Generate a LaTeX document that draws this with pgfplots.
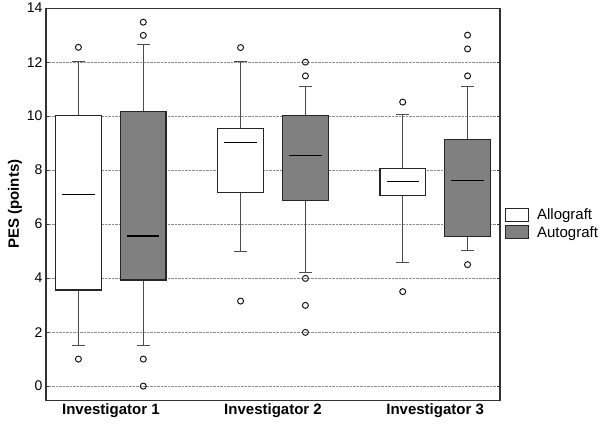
\documentclass[border=0pt]{standalone}
\usepackage{pgfplots}
\pgfplotsset{compat=1.18}
\usepgfplotslibrary{statistics}
\usepackage{fontspec}
\setmainfont{Liberation Sans}
\definecolor{autog}{HTML}{808080}
\pgfplotsset{
  allobox/.style={forget plot, line width=1.1pt, draw=black!85, mark=o,
    mark size=3pt, mark options={black!90, solid, fill=none, line width=1pt},
    boxplot/draw direction=y,
    boxplot/every box/.style={draw=black!85, fill=white},
    boxplot/every whisker/.style={black!70},
    boxplot/every median/.style={black, shorten <=6.5pt, shorten >=6.5pt}},
  autobox/.style={forget plot, line width=1.1pt, draw=black!85, mark=o,
    mark size=3pt, mark options={black!90, solid, fill=none, line width=1pt},
    boxplot/draw direction=y,
    boxplot/every box/.style={draw=black!85, fill=autog},
    boxplot/every whisker/.style={black!70},
    boxplot/every median/.style={black, shorten <=6.5pt, shorten >=6.5pt}},
}
\begin{document}
\begin{tikzpicture}
\begin{axis}[
  scale only axis, width=454pt, height=392pt,
  xmin=0.6, xmax=3.4, ymin=-0.52, ymax=14,
  xtick={1,2,3},
  xticklabels={Investigator 1, Investigator 2, Investigator 3},
  xticklabel style={font=\fontsize{15}{18}\selectfont\bfseries},
  x tick style={draw=none},
  ytick={0,2,...,14},
  yticklabel style={font=\fontsize{14}{16}\selectfont},
  /pgf/number format/assume math mode=true,
  ymajorgrids,
  grid style={densely dotted, black!45, line width=0.6pt},
  ylabel={PES (points)},
  ylabel style={font=\fontsize{15}{18}\selectfont\bfseries, yshift=-2pt},
  tick align=inside, major tick length=3pt,
  tick style={black!80, line width=0.8pt},
  axis line style={black!80, line width=1.1pt},
  boxplot/draw direction=y,
  boxplot/box extend=0.28,
  boxplot/whisker extend=0.08,
  legend style={at={(1,0.45)}, xshift=5pt, anchor=west, draw=none, fill=none,
    font=\fontsize{15}{16}\selectfont, inner sep=0pt, row sep=1pt},
  legend cell align=left,
  legend image code/.code={\draw[#1, line width=0.9pt] (0pt,-6.5pt) rectangle (23pt,6.5pt);},
]
% Investigator 1
\addplot[allobox, boxplot prepared={draw position=0.8, lower whisker=1.5,
  lower quartile=3.56, median=7.1, upper quartile=10.03, upper whisker=12.02}]
  table[row sep=\\, y index=0] {y\\ 12.55\\ 1.0\\};
\addplot[autobox, boxplot prepared={draw position=1.2, lower whisker=1.5,
  lower quartile=3.93, median=5.56, upper quartile=10.17, upper whisker=12.65}]
  table[row sep=\\, y index=0] {y\\ 13.48\\ 12.99\\ 1.0\\ 0\\};
% Investigator 2
\addplot[allobox, boxplot prepared={draw position=1.8, lower whisker=5.0,
  lower quartile=7.16, median=9.01, upper quartile=9.55, upper whisker=12.02}]
  table[row sep=\\, y index=0] {y\\ 12.54\\ 3.15\\};
\addplot[autobox, boxplot prepared={draw position=2.2, lower whisker=4.2,
  lower quartile=6.88, median=8.54, upper quartile=10.03, upper whisker=11.09}]
  table[row sep=\\, y index=0] {y\\ 12.0\\ 11.49\\ 3.99\\ 2.99\\ 1.99\\};
% Investigator 3
\addplot[allobox, boxplot prepared={draw position=2.8, lower whisker=4.59,
  lower quartile=7.07, median=7.58, upper quartile=8.06, upper whisker=10.06}]
  table[row sep=\\, y index=0] {y\\ 10.52\\ 3.5\\};
\addplot[autobox, boxplot prepared={draw position=3.2, lower whisker=5.01,
  lower quartile=5.54, median=7.62, upper quartile=9.15, upper whisker=11.09}]
  table[row sep=\\, y index=0] {y\\ 13.0\\ 12.49\\ 11.49\\ 4.5\\};
\addlegendimage{draw=black!85, fill=white}
\addlegendentry{\hspace{6pt}Allograft}
\addlegendimage{draw=black!85, fill=autog}
\addlegendentry{\hspace{6pt}Autograft}
\coordinate (sw) at (rel axis cs:0,0);
\end{axis}
\path (sw) ++(-46pt,-25pt) rectangle ++(600pt,424pt);
\end{tikzpicture}
\end{document}
